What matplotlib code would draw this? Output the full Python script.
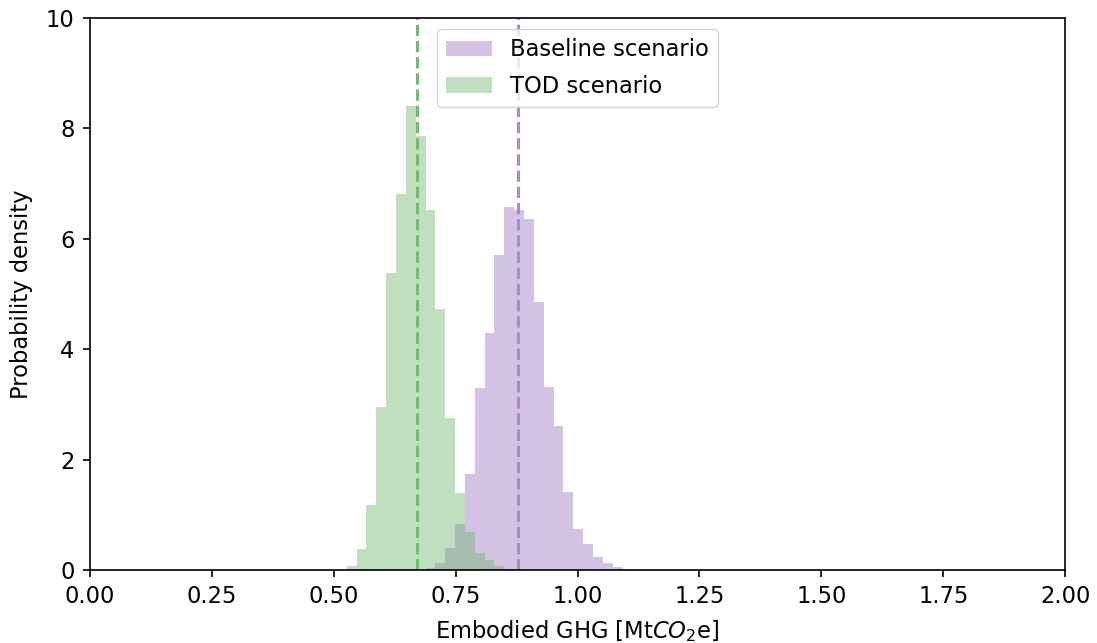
import numpy as np
import matplotlib
matplotlib.use('Agg')
import matplotlib.pyplot as plt

# Histogram data (shared bins, density values)
bin_start = 0.5266
bin_width = 0.0202
n_bins = 30

tod_density = [0.07, 0.38, 1.17, 2.96, 5.38, 6.82, 8.41, 7.86, 6.52, 4.73,
               2.75, 1.40, 0.69, 0.31, 0.18, 0.08, 0.02, 0.0, 0.0, 0.0,
               0.0, 0.0, 0.0, 0.0, 0.0, 0.0, 0.0, 0.0, 0.0, 0.0]
baseline_density = [0.0, 0.0, 0.0, 0.0, 0.0, 0.0, 0.0, 0.0, 0.03, 0.13,
                    0.40, 0.84, 1.74, 3.30, 4.29, 5.70, 6.57, 6.52, 6.35, 4.86,
                    3.32, 2.61, 1.41, 0.75, 0.47, 0.24, 0.12, 0.06, 0.02, 0.0]

baseline_mean = 0.877
tod_mean = 0.670

edges = bin_start + bin_width * np.arange(n_bins + 1)
centers = (edges[:-1] + edges[1:]) / 2

plt.rcParams['font.size'] = 16.3

fig = plt.figure(figsize=(10.97, 6.43), dpi=100)
ax = fig.add_axes([0.082, 0.1135, 0.889, 0.8585])

ax.hist(centers, bins=edges, weights=baseline_density, color='tab:purple',
        alpha=0.4, label='Baseline scenario')
ax.hist(centers, bins=edges, weights=tod_density, color='#71b86f',
        alpha=0.45, label='TOD scenario')

ax.axvline(tod_mean, color='#6fbd6d', linestyle='--', linewidth=2.2)
ax.axvline(baseline_mean, color='#a98bc7', linestyle='--', linewidth=2.2)

ax.set_xlim(0, 2)
ax.set_ylim(0, 10)
ax.set_xticks(np.arange(0, 2.01, 0.25))
ax.set_yticks(np.arange(0, 11, 2))
ax.set_xlabel('Embodied GHG [Mt$CO_2$e]', labelpad=7)
ax.set_ylabel('Probability density', labelpad=9)
ax.tick_params(length=5, width=1.2, pad=6)
for s in ax.spines.values():
    s.set_linewidth(1.2)

ax.legend(loc='upper center', labelspacing=0.6)

plt.savefig('out.png', dpi=100)
